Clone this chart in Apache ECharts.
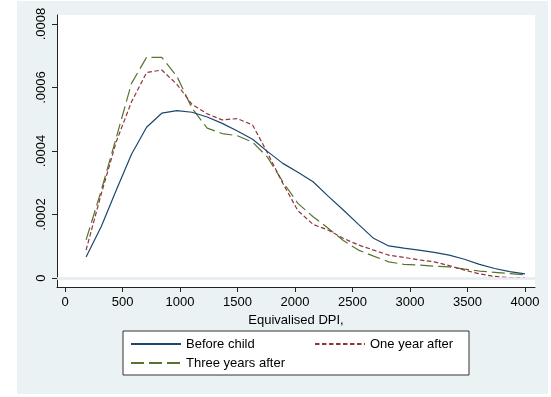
<!DOCTYPE html>
<html>
<head>
<meta charset="utf-8">
<script src="https://cdn.jsdelivr.net/npm/echarts@6/dist/echarts.min.js"></script>
<style>
html,body{margin:0;padding:0;background:#fff;}
#chart{width:551px;height:397px;}
</style>
</head>
<body>
<div id="chart"></div>
<script>
// Equivalised DPI evaluation points
const dpi = [183,315,446,578,709,841,973,1104,1236,1367,1499,1631,1762,1894,2025,2157,2288,2420,2552,2683,2815,2946,3078,3210,3341,3473,3604,3736,3867,4000];
// Densities
const beforeChild = [0.000066,0.000162,0.000277,0.000390,0.000475,0.000519,0.000527,0.000522,0.000507,0.000487,0.000463,0.000437,0.000398,0.000361,0.000333,0.000303,0.000258,0.000214,0.000169,0.000125,0.000101,0.000094,0.000088,0.000081,0.000072,0.000059,0.000043,0.000030,0.000020,0.000013];
const oneYearAfter = [0.000088,0.000265,0.000430,0.000555,0.000647,0.000655,0.000610,0.000547,0.000517,0.000498,0.000502,0.000482,0.000393,0.000298,0.000212,0.000169,0.000151,0.000125,0.000104,0.000088,0.000072,0.000065,0.000057,0.000051,0.000039,0.000025,0.000013,0.000005,0.000001,0.000001];
const threeYearsAfter = [0.000120,0.000276,0.000443,0.000613,0.000695,0.000695,0.000635,0.000535,0.000472,0.000455,0.000448,0.000428,0.000380,0.000303,0.000235,0.000193,0.000157,0.000118,0.000088,0.000069,0.000051,0.000043,0.000041,0.000037,0.000035,0.000028,0.000022,0.000018,0.000014,0.000010];
const seriesNames = ['Before child','One year after','Three years after'];
const xTicks = [0,500,1000,1500,2000,2500,3000,3500,4000];
const yTicks = [0,0.0002,0.0004,0.0006,0.0008];
const xTitle = 'Equivalised DPI,';

const pair = (xs, ys) => xs.map((x, i) => [x, ys[i]]);
const FONT = '"Liberation Sans", Arial, Helvetica, sans-serif';
const AXIS_COLOR = '#222';

const chart = echarts.init(document.getElementById('chart'), null, {renderer: 'canvas'});
chart.setOption({
  animation: false,
  backgroundColor: '#fff',
  graphic: [{
    type: 'rect', z: -10, silent: true,
    shape: {x: 17, y: 1, width: 531, height: 393},
    style: {fill: '#eaf2f3'}
  }],
  grid: {
    left: 57, right: 16, top: 15, bottom: 110,
    show: true, backgroundColor: '#ffffff', borderWidth: 0
  },
  xAxis: {
    type: 'value', min: -70, max: 4087,
    name: xTitle, nameLocation: 'middle', nameGap: 22,
    nameTextStyle: {fontFamily: FONT, fontSize: 13, color: '#000'},
    axisLine: {show: true, onZero: false, lineStyle: {color: AXIS_COLOR, width: 1}},
    axisTick: {show: true, length: 5, customValues: xTicks, lineStyle: {color: AXIS_COLOR}},
    axisLabel: {customValues: xTicks, margin: 9, fontFamily: FONT, fontSize: 13, color: '#000',
      formatter: v => String(Math.round(v))},
    splitLine: {show: false}
  },
  yAxis: {
    type: 'value', min: -0.0000283, max: 0.0008283,
    axisLine: {show: true, onZero: false, lineStyle: {color: AXIS_COLOR, width: 1}},
    axisTick: {show: true, length: 5, customValues: yTicks, lineStyle: {color: AXIS_COLOR}},
    axisLabel: {
      customValues: yTicks, rotate: 90, margin: 9,
      fontFamily: FONT, fontSize: 13, color: '#000',
      formatter: v => v === 0 ? '0' : v.toFixed(4).replace(/^0/, '')
    },
    splitLine: {show: false}
  },
  legend: {
    left: 123, top: 331,
    width: 340,
    orient: 'horizontal',
    padding: [4, 11, 3, 7],
    itemGap: 1,
    itemWidth: 50, itemHeight: 14,
    itemStyle: {opacity: 0},
    borderColor: '#333', borderWidth: 1, backgroundColor: '#fff',
    textStyle: {fontFamily: FONT, fontSize: 13, color: '#000', lineHeight: 18},
    data: [
      {name: seriesNames[0], textStyle: {width: 127}},
      {name: seriesNames[1], textStyle: {width: 88}},
      {name: seriesNames[2], textStyle: {width: 127}}
    ]
  },
  series: [
    {
      name: 'grid', type: 'line', data: [], silent: true,
      markLine: {
        silent: true, symbol: 'none', label: {show: false},
        lineStyle: {color: '#e4ecef', width: 1.3, type: 'solid'},
        data: yTicks.map(v => ({yAxis: v}))
      }
    },
    {
      name: seriesNames[0], type: 'line', data: pair(dpi, beforeChild),
      showSymbol: false, symbol: 'none', z: 5,
      lineStyle: {color: '#1a476f', width: 1.2, type: 'solid'},
      itemStyle: {color: '#1a476f'}
    },
    {
      name: seriesNames[1], type: 'line', data: pair(dpi, oneYearAfter),
      showSymbol: false, symbol: 'none', z: 4,
      lineStyle: {color: '#90353b', width: 1.2, type: [4.5, 2.5]},
      itemStyle: {color: '#90353b'}
    },
    {
      name: seriesNames[2], type: 'line', data: pair(dpi, threeYearsAfter),
      showSymbol: false, symbol: 'none', z: 3,
      lineStyle: {color: '#55752f', width: 1.2, type: [13, 5]},
      itemStyle: {color: '#55752f'}
    }
  ]
});
</script>
</body>
</html>
